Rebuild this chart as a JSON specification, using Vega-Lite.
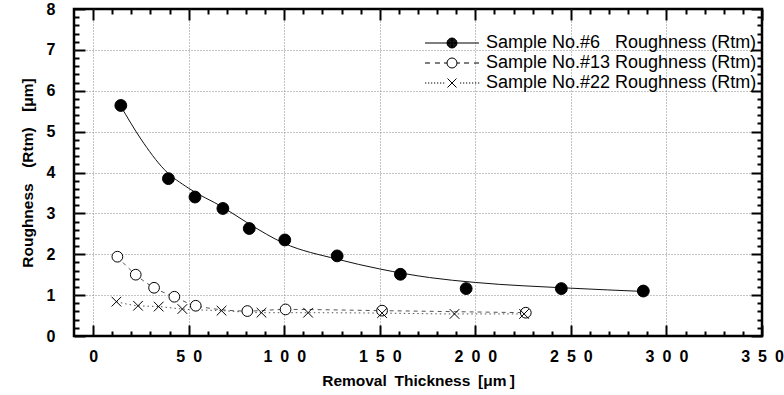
{
  "$schema": "https://vega.github.io/schema/vega-lite/v6.json",
  "width": 688,
  "height": 327,
  "autosize": {"type": "none"},
  "padding": {"left": 74, "top": 9, "right": 22, "bottom": 59},
  "background": "white",
  "config": {"view": {"stroke": "black", "strokeWidth": 2.5}, "font": "Liberation Sans"},
  "datasets": {
    "curve": [
      {"x": 14.5, "y": 5.62}, {"x": 25, "y": 4.82}, {"x": 37.3, "y": 4.07}, {"x": 49.8, "y": 3.62},
      {"x": 67.9, "y": 3.15}, {"x": 81.7, "y": 2.74}, {"x": 99.8, "y": 2.27}, {"x": 127.7, "y": 1.88},
      {"x": 150, "y": 1.64}, {"x": 176, "y": 1.43}, {"x": 200, "y": 1.31}, {"x": 250, "y": 1.17},
      {"x": 288, "y": 1.09}
    ],
    "pts": [
      {"series": "Sample No.#6\u00a0\u00a0\u00a0Roughness (Rtm)", "x": 14.5, "y": 5.64},
      {"series": "Sample No.#6\u00a0\u00a0\u00a0Roughness (Rtm)", "x": 39.4, "y": 3.85},
      {"series": "Sample No.#6\u00a0\u00a0\u00a0Roughness (Rtm)", "x": 53.3, "y": 3.40},
      {"series": "Sample No.#6\u00a0\u00a0\u00a0Roughness (Rtm)", "x": 67.9, "y": 3.12},
      {"series": "Sample No.#6\u00a0\u00a0\u00a0Roughness (Rtm)", "x": 81.7, "y": 2.63},
      {"series": "Sample No.#6\u00a0\u00a0\u00a0Roughness (Rtm)", "x": 100.3, "y": 2.35},
      {"series": "Sample No.#6\u00a0\u00a0\u00a0Roughness (Rtm)", "x": 127.7, "y": 1.96},
      {"series": "Sample No.#6\u00a0\u00a0\u00a0Roughness (Rtm)", "x": 160.8, "y": 1.51},
      {"series": "Sample No.#6\u00a0\u00a0\u00a0Roughness (Rtm)", "x": 195.2, "y": 1.16},
      {"series": "Sample No.#6\u00a0\u00a0\u00a0Roughness (Rtm)", "x": 245, "y": 1.16},
      {"series": "Sample No.#6\u00a0\u00a0\u00a0Roughness (Rtm)", "x": 287.9, "y": 1.10},
      {"series": "Sample No.#13 Roughness (Rtm)", "x": 12.7, "y": 1.94},
      {"series": "Sample No.#13 Roughness (Rtm)", "x": 22.3, "y": 1.50},
      {"series": "Sample No.#13 Roughness (Rtm)", "x": 31.9, "y": 1.18},
      {"series": "Sample No.#13 Roughness (Rtm)", "x": 42.5, "y": 0.96},
      {"series": "Sample No.#13 Roughness (Rtm)", "x": 53.7, "y": 0.74},
      {"series": "Sample No.#13 Roughness (Rtm)", "x": 80.7, "y": 0.61},
      {"series": "Sample No.#13 Roughness (Rtm)", "x": 100.7, "y": 0.65},
      {"series": "Sample No.#13 Roughness (Rtm)", "x": 151.2, "y": 0.62},
      {"series": "Sample No.#13 Roughness (Rtm)", "x": 226.4, "y": 0.57},
      {"series": "Sample No.#22 Roughness (Rtm)", "x": 12.2, "y": 0.84},
      {"series": "Sample No.#22 Roughness (Rtm)", "x": 23.5, "y": 0.74},
      {"series": "Sample No.#22 Roughness (Rtm)", "x": 34.3, "y": 0.72},
      {"series": "Sample No.#22 Roughness (Rtm)", "x": 46.7, "y": 0.66},
      {"series": "Sample No.#22 Roughness (Rtm)", "x": 67.2, "y": 0.62},
      {"series": "Sample No.#22 Roughness (Rtm)", "x": 88.1, "y": 0.57},
      {"series": "Sample No.#22 Roughness (Rtm)", "x": 112.5, "y": 0.57},
      {"series": "Sample No.#22 Roughness (Rtm)", "x": 151.2, "y": 0.56},
      {"series": "Sample No.#22 Roughness (Rtm)", "x": 189.1, "y": 0.54},
      {"series": "Sample No.#22 Roughness (Rtm)", "x": 225.5, "y": 0.54}
    ]
  },
  "layer": [
    {
      "data": {"name": "curve"},
      "mark": {"type": "line", "interpolate": "monotone", "color": "#111", "strokeWidth": 1},
      "encoding": {
        "x": {
          "field": "x", "type": "quantitative",
          "scale": {"domain": [-10, 350], "nice": false, "zero": false},
          "axis": {
            "orient": "bottom",
            "values": [0,10,20,30,40,50,60,70,80,90,100,110,120,130,140,150,160,170,180,190,200,210,220,230,240,250,260,270,280,290,300,310,320,330,340,350],
            "title": "Removal\u2002Thickness\u2002[\u03bcm\u2009]",
            "titleFont": "Liberation Sans", "titleFontWeight": "bold", "titleFontSize": 15.5, "titleColor": "black", "titlePadding": 3,
            "labelExpr": "datum.value % 50 === 0 ? join(split(datum.label, ''), '\u2002') : ''",
            "labelFont": "Liberation Sans", "labelFontWeight": "bold", "labelFontSize": 16, "labelColor": "black",
            "labelPadding": 23, "labelFlush": false, "labelOverlap": false, "labelBaseline": "top",
            "tickSize": {"condition": {"test": "datum.value % 50 === 0", "value": -11}, "value": -5},
            "tickWidth": 2, "tickColor": "black",
            "domain": false,
            "grid": true, "gridColor": "#888", "gridDash": [1, 2], "gridWidth": 1,
            "gridOpacity": {"condition": {"test": "datum.value % 50 === 0 && datum.value < 350", "value": 1}, "value": 0}
          }
        },
        "y": {
          "field": "y", "type": "quantitative",
          "scale": {"domain": [0, 8], "nice": false},
          "axis": {
            "orient": "left",
            "values": [0,0.2,0.4,0.6,0.8,1,1.2,1.4,1.6,1.8,2,2.2,2.4,2.6,2.8,3,3.2,3.4,3.6,3.8,4,4.2,4.4,4.6,4.8,5,5.2,5.4,5.6,5.8,6,6.2,6.4,6.6,6.8,7,7.2,7.4,7.6,7.8,8],
            "format": ".0f",
            "title": "Roughness\u2003(Rtm)\u2003[\u03bcm]",
            "titleFont": "Liberation Sans", "titleFontWeight": "bold", "titleFontSize": 15.5, "titleColor": "black", "titlePadding": 11,
            "labelExpr": "abs(datum.value - round(datum.value)) < 0.001 ? datum.label : ''",
            "labelFont": "Liberation Sans", "labelFontWeight": "bold", "labelFontSize": 16, "labelColor": "black",
            "labelPadding": 30, "labelFlush": false, "labelOverlap": false,
            "tickSize": {"condition": {"test": "abs(datum.value - round(datum.value)) < 0.001", "value": -11}, "value": -5},
            "tickWidth": 2, "tickColor": "black",
            "domain": false,
            "grid": true, "gridColor": "#888", "gridDash": [1, 2], "gridWidth": 1,
            "gridOpacity": {"condition": {"test": "abs(datum.value - round(datum.value)) < 0.001 && datum.value > 0 && datum.value < 8", "value": 1}, "value": 0}
          }
        }
      }
    },
    {
      "data": {"name": "pts"},
      "transform": [{"filter": "indexof(datum.series, '#13') >= 0"}],
      "mark": {"type": "line", "interpolate": "monotone", "color": "#555", "strokeWidth": 1, "strokeDash": [4, 4]},
      "encoding": {
        "x": {
          "field": "x", "type": "quantitative",
          "scale": {"domain": [-10, 350], "nice": false, "zero": false},
          "axis": {
            "orient": "top",
            "values": [0,10,20,30,40,50,60,70,80,90,100,110,120,130,140,150,160,170,180,190,200,210,220,230,240,250,260,270,280,290,300,310,320,330,340,350],
            "title": null, "labels": false, "grid": false, "domain": false,
            "tickSize": {"condition": {"test": "datum.value % 50 === 0", "value": -11}, "value": -5},
            "tickWidth": 2, "tickColor": "black"
          }
        },
        "y": {
          "field": "y", "type": "quantitative",
          "scale": {"domain": [0, 8], "nice": false},
          "axis": {
            "orient": "right",
            "values": [0,0.2,0.4,0.6,0.8,1,1.2,1.4,1.6,1.8,2,2.2,2.4,2.6,2.8,3,3.2,3.4,3.6,3.8,4,4.2,4.4,4.6,4.8,5,5.2,5.4,5.6,5.8,6,6.2,6.4,6.6,6.8,7,7.2,7.4,7.6,7.8,8],
            "title": null, "labels": false, "grid": false, "domain": false,
            "tickSize": {"condition": {"test": "abs(datum.value - round(datum.value)) < 0.001", "value": -11}, "value": -5},
            "tickWidth": 2, "tickColor": "black"
          }
        }
      }
    },
    {
      "data": {"name": "pts"},
      "transform": [{"filter": "indexof(datum.series, '#22') >= 0"}],
      "mark": {"type": "line", "interpolate": "monotone", "color": "#555", "strokeWidth": 1, "strokeDash": [1.5, 3]},
      "encoding": {
        "x": {"field": "x", "type": "quantitative", "scale": {"domain": [-10, 350], "nice": false, "zero": false}, "axis": null},
        "y": {"field": "y", "type": "quantitative", "scale": {"domain": [0, 8], "nice": false}, "axis": null}
      }
    },
    {
      "data": {"name": "pts"},
      "mark": {"type": "point", "stroke": "black", "strokeWidth": 1, "opacity": 1},
      "encoding": {
        "x": {"field": "x", "type": "quantitative", "scale": {"domain": [-10, 350], "nice": false, "zero": false}, "axis": null},
        "y": {"field": "y", "type": "quantitative", "scale": {"domain": [0, 8], "nice": false}, "axis": null},
        "fill": {"condition": {"test": "indexof(datum.series, '#6') >= 0", "value": "black"}, "value": "white"},
        "size": {"condition": {"test": "indexof(datum.series, '#6') >= 0", "value": 140}, "value": 115},
        "shape": {"condition": {"test": "indexof(datum.series, '#22') >= 0", "value": "M-0.9,-0.9L0.9,0.9M-0.9,0.9L0.9,-0.9"}, "value": "circle"}
      }
    },
    {
      "data": {"name": "pts"},
      "mark": {"type": "point", "stroke": "black", "strokeWidth": 1, "opacity": 0},
      "encoding": {
        "x": {"field": "x", "type": "quantitative", "scale": {"domain": [-10, 350], "nice": false, "zero": false}, "axis": null},
        "y": {"field": "y", "type": "quantitative", "scale": {"domain": [0, 8], "nice": false}, "axis": null},
        "shape": {
          "field": "series", "type": "nominal",
          "scale": {
            "domain": ["Sample No.#6\u00a0\u00a0\u00a0Roughness (Rtm)", "Sample No.#13 Roughness (Rtm)", "Sample No.#22 Roughness (Rtm)"],
            "range": [
              "M-5.4,0H-1M1,0H5.4M-1,0A1,1 0 1,0 1,0A1,1 0 1,0 -1,0ZM-0.9,0A0.9,0.9 0 1,0 0.9,0A0.9,0.9 0 1,0 -0.9,0ZM-0.8,0A0.8,0.8 0 1,0 0.8,0A0.8,0.8 0 1,0 -0.8,0ZM-0.7,0A0.7,0.7 0 1,0 0.7,0A0.7,0.7 0 1,0 -0.7,0ZM-0.6,0A0.6,0.6 0 1,0 0.6,0A0.6,0.6 0 1,0 -0.6,0ZM-0.5,0A0.5,0.5 0 1,0 0.5,0A0.5,0.5 0 1,0 -0.5,0ZM-0.4,0A0.4,0.4 0 1,0 0.4,0A0.4,0.4 0 1,0 -0.4,0ZM-0.3,0A0.3,0.3 0 1,0 0.3,0A0.3,0.3 0 1,0 -0.3,0ZM-0.2,0A0.2,0.2 0 1,0 0.2,0A0.2,0.2 0 1,0 -0.2,0ZM-0.1,0A0.1,0.1 0 1,0 0.1,0A0.1,0.1 0 1,0 -0.1,0ZM-1,0H1M0,-1V1",
              "M-5.4,0H-4.4M-3.4,0H-2.4M-1.6,0H-1M1,0H1.6M2.4,0H3.4M4.4,0H5.4M-1,0A1,1 0 1,0 1,0A1,1 0 1,0 -1,0Z",
              "M-5.4,0h0.25M-4.8,0h0.25M-4.2,0h0.25M-3.6,0h0.25M-3,0h0.25M-2.4,0h0.25M-1.8,0h0.25M1.6,0h0.25M2.2,0h0.25M2.8,0h0.25M3.4,0h0.25M4,0h0.25M4.6,0h0.25M5.2,0h0.25M-0.9,-0.9L0.9,0.9M-0.9,0.9L0.9,-0.9"
            ]
          },
          "legend": {
            "title": null, "orient": "none", "legendX": 369, "legendY": 25,
            "labelFont": "Liberation Sans", "labelFontSize": 18, "labelColor": "black", "labelLimit": 400,
            "symbolSize": 100, "symbolOpacity": 1, "symbolStrokeColor": "black", "symbolStrokeWidth": 1, "symbolFillColor": "transparent",
            "labelOffset": 25, "rowPadding": 2, "padding": 0
          }
        }
      }
    }
  ]
}
